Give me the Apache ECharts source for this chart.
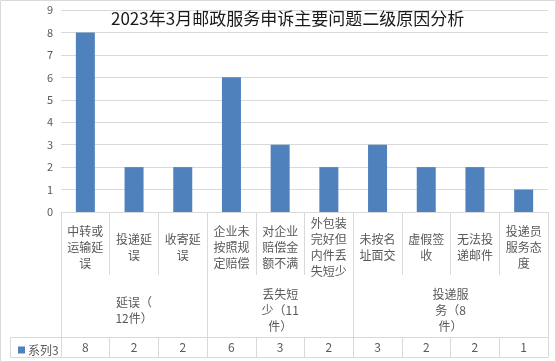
<!DOCTYPE html>
<html>
<head>
<meta charset="utf-8">
<script src="https://cdn.jsdelivr.net/npm/echarts@6/dist/echarts.min.js"></script>
<style>
html,body{margin:0;padding:0;background:#fff;}
#c{width:556px;height:362px;}
</style>
</head>
<body>
<div id="c"></div>
<script>
const titleText = '2023年3月邮政服务申诉主要问题二级原因分析';
const categories = ['中转或运输延误','投递延误','收寄延误','企业未按照规定赔偿','对企业赔偿金额不满','外包装完好但内件丢失短少','未按名址面交','虚假签收','无法投递邮件','投递员服务态度'];
const values = [8,2,2,6,3,2,3,2,2,1];
const groups = ['延误（12件）','丢失短少（11件）','投递服务（8件）'];
const groupSizes = [3,3,4];
const seriesName = '系列3';
const yMin = 0, yMax = 9, yStep = 1;

// group boundaries and centers in category units
const bounds = [0];
groupSizes.forEach(s => bounds.push(bounds[bounds.length-1] + s));
const centers = groupSizes.map((s,i) => bounds[i] + s/2);

function chunk(s, n){ const out=[]; for(let i=0;i<s.length;i+=n) out.push(s.slice(i,i+n)); return out.join('\n'); }

const grey = '#d9d9d9';
const txt = '#595959';
const FONT = '"Noto Sans CJK SC","Noto Sans",sans-serif';

const chart = echarts.init(document.getElementById('c'), null, {renderer:'canvas'});
chart.setOption({
  animation:false,
  textStyle:{fontFamily:FONT},
  title:{text:titleText,left:106,top:5,textStyle:{fontSize:17,fontWeight:'normal',color:'#1a1a1a',fontFamily:FONT}},
  legend:{data:[seriesName],left:13,top:339,itemWidth:7,itemHeight:7,icon:'rect',itemGap:0,
    textStyle:{color:txt,fontSize:12,padding:[0,0,0,-2]}},
  grid:{left:61,right:8,top:10,bottom:150,containLabel:false},
  yAxis:{type:'value',min:yMin,max:yMax,interval:yStep,
    axisLine:{show:false},axisTick:{show:false},
    axisLabel:{color:txt,fontSize:11,margin:8},
    splitLine:{lineStyle:{color:grey}}},
  xAxis:[
    {type:'category',data:categories,position:'bottom',
      axisLine:{lineStyle:{color:grey}},
      axisTick:{show:true,interval:0,length:63,lineStyle:{color:grey}},
      axisLabel:{interval:0,color:txt,fontSize:12,lineHeight:16,margin:35,verticalAlign:'middle',
        formatter:(v)=>chunk(v,3)}},
    {type:'value',min:0,max:categories.length,position:'bottom',offset:0,
      axisLine:{show:false},splitLine:{show:false},
      axisTick:{show:true,customValues:bounds,length:145,lineStyle:{color:grey}},
      axisLabel:{show:true,customValues:centers,color:txt,fontSize:12,lineHeight:16,margin:98,verticalAlign:'middle',
        width:40,overflow:'break',
        formatter:(v)=>{const i=centers.indexOf(v);return i>=0?groups[i]:'';}}},
    {type:'category',data:categories,position:'bottom',offset:125,
      axisLine:{show:true,lineStyle:{color:grey}},
      axisTick:{show:true,interval:0,length:20,lineStyle:{color:grey}},
      axisLabel:{interval:0,color:txt,fontSize:12,margin:10,verticalAlign:'middle',
        formatter:(v,i)=>String(values[i])}},
    {type:'category',data:categories,position:'bottom',offset:145,
      axisLine:{show:true,lineStyle:{color:grey}},
      axisTick:{show:false},axisLabel:{show:false}}
  ],
  graphic:[
    {type:'polyline',shape:{points:[[61,337.5],[10.5,337.5],[10.5,357.5],[61,357.5]]},style:{stroke:grey,fill:null,lineWidth:1},silent:true},
    {type:'rect',shape:{x:0.5,y:0.5,width:555,height:361},style:{stroke:grey,fill:null,lineWidth:1},silent:true}
  ],
  series:[{name:seriesName,type:'bar',xAxisIndex:0,data:values,barWidth:19,itemStyle:{color:'#4F81BD'}}]
});
</script>
</body>
</html>
